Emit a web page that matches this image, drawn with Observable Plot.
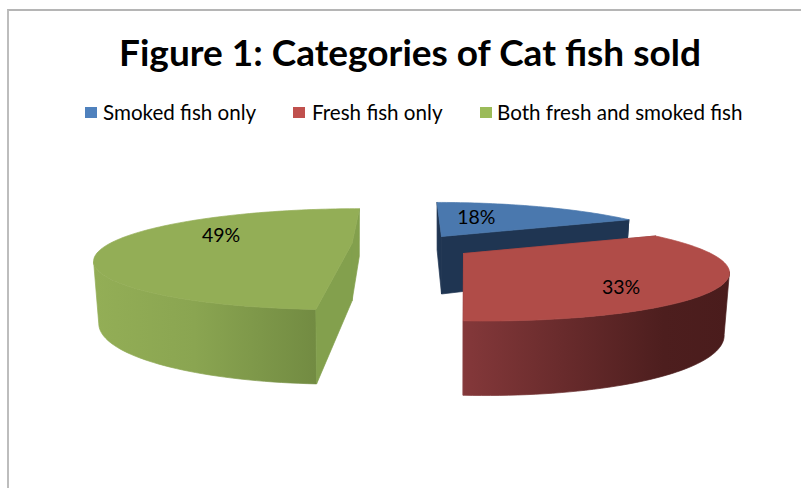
<!DOCTYPE html>
<html>
<head>
<meta charset="utf-8">
<script src="https://cdn.jsdelivr.net/npm/d3@7"></script>
<script src="https://cdn.jsdelivr.net/npm/@observablehq/plot@0.6"></script>
<style>
  html, body { margin: 0; padding: 0; background: #fff; width: 801px; height: 488px; overflow: hidden; }
  body { position: relative; font-family: Lato, "Open Sans", sans-serif; color: #000; }
  #frame { position: absolute; left: 7px; top: 9px; right: 0; bottom: 0; border-left: 2px solid #bdbdbd; border-top: 2px solid #b5b5b5; }
  #head { position: relative; height: 135px; }
  #title { position: absolute; left: 0; width: 820px; top: 27px; text-align: center; font-size: 37px; line-height: 50px; font-weight: 700; white-space: nowrap; }
  .key { position: absolute; top: 99px; font-size: 20.6px; line-height: 26px; white-space: nowrap; }
  .swatch { position: absolute; top: 107px; width: 12px; height: 11px; }
  #chart { display: block; position: relative; }
</style>
</head>
<body>
<div id="frame"></div>
<div id="head">
  <div id="title">Figure 1: Categories of Cat fish sold</div>
</div>
<div id="chart"></div>
<script>
// Shares of each category, in percent, clockwise from the back of the pie.
const categories = ["Smoked fish only", "Fresh fish only", "Both fresh and smoked fish"];
const shares = [18, 33, 49];

// Legend colours and shaded face colours.
const legendColors = ["#4f81bd", "#c0504d", "#9bbb59"];
const topColors = ["#4a78ae", "#b04c48", "#93ae56"];

// Legend layout: swatch left edge and label left edge.
const swatchLeft = [85, 293, 480];
const labelLeft = [103, 312, 497];

// Exploded slices: where each apex sits, its size and its perspective lean.
const apexX = [441, 463, 351.5];
const apexY = [236, 253, 243];
const sliceScale = [0.93, 0.97, 0.95];
const sliceLean = [0.08, 0.2, -0.13];

// Where each percentage sits on its slice, in pie units.
const labelU = [0.18, 0.48, -0.58];
const labelV = [0.47, -0.605, 0.19];

// Tilted-pie projection.
const radiusX = 255, radiusY = 48, foreshorten = 0.31, thickness = 57.5;
const headHeight = 135, pageHeight = 488, pageWidth = 801;

function project(i, u, v) {
  const w = 1 + foreshorten * v;
  const rx = radiusX * sliceScale[i], ry = radiusY * sliceScale[i], lean = sliceLean[i];
  return {x: apexX[i] + rx * (u + lean) / w - rx * lean, y: apexY[i] - ry * v / w, w};
}
const lower = (i, p) => ({x: apexX[i] + (p.x - apexX[i]) * 0.98, y: p.y + thickness / Math.pow(p.w, 0.7), w: p.w});

function arc(i, from, to) {
  const pts = [];
  const steps = Math.ceil((to - from) / (Math.PI / 120));
  for (let k = 0; k <= steps; k++) {
    const t = from + (to - from) * k / steps;
    pts.push(project(i, Math.sin(t), Math.cos(t)));
  }
  return pts;
}

// Cumulative angles taken from the shares.
const total = d3.sum(shares);
const ends = d3.cumsum(shares).map(d => d / total * 2 * Math.PI);
const starts = [0, ...ends.slice(0, -1)];

// A thin stroke in the fill colour closes the hairline seams between faces.
const face = (points, fill) => Plot.line(points, {x: "x", y: "y", fill, stroke: fill, strokeWidth: 0.7, curve: "linear"});
const wallBetween = (i, pts) => [...pts, ...pts.map(p => lower(i, p)).reverse(), pts[0]];

// The part of the rim facing the viewer: from its widest point to its nearer end.
function frontRim(i, rim) {
  const widest = d3.greatest(rim, p => Math.abs(p.x - apexX[i]));
  const at = rim.indexOf(widest);
  return rim[rim.length - 1].y > rim[0].y ? rim.slice(at) : rim.slice(0, at + 1);
}

function sliceMarks(i, wallFill, edgeFill) {
  const rim = arc(i, starts[i], ends[i]);
  const apex = project(i, 0, 0);
  const first = rim[0], last = rim[rim.length - 1];
  return [
    face(wallBetween(i, frontRim(i, rim)), wallFill),
    face(wallBetween(i, [first, apex]), edgeFill),
    face(wallBetween(i, [apex, last]), edgeFill),
    face([apex, ...rim, apex], topColors[i])
  ];
}

// Horizontal shading for the curved sides.
function gradients(_i, _s, _v, _d, context) {
  const doc = context.document;
  const ns = "http://www.w3.org/2000/svg";
  const defs = doc.createElementNS(ns, "defs");
  const add = (id, x1, x2, stops) => {
    const g = doc.createElementNS(ns, "linearGradient");
    g.setAttribute("id", id);
    g.setAttribute("gradientUnits", "userSpaceOnUse");
    g.setAttribute("x1", x1); g.setAttribute("x2", x2);
    g.setAttribute("y1", 0); g.setAttribute("y2", 0);
    stops.forEach(([o, c]) => {
      const s = doc.createElementNS(ns, "stop");
      s.setAttribute("offset", o); s.setAttribute("stop-color", c);
      g.appendChild(s);
    });
    defs.appendChild(g);
  };
  add("redWall", 463, 730, [[0, "#84383a"], [0.75, "#4d1e1e"], [1, "#4a1c1c"]]);
  add("greenWall", 94, 316, [[0, "#93ae56"], [0.45, "#8aa551"], [1, "#728b42"]]);
  return defs;
}

const labels = shares.map((d, i) => ({text: `${d}%`, ...project(i, labelU[i], labelV[i])}));

const chart = Plot.plot({
  width: pageWidth,
  height: pageHeight - headHeight,
  margin: 0,
  style: {background: "transparent"},
  x: {domain: [0, pageWidth], range: [0, pageWidth], axis: null},
  y: {domain: [headHeight, pageHeight], range: [0, pageHeight - headHeight], axis: null},
  marks: [
    gradients,
    ...sliceMarks(0, "#1f3552", "#1f3552"),
    ...sliceMarks(2, "url(#greenWall)", "#83a04d"),
    ...sliceMarks(1, "url(#redWall)", "#84383a"),
    Plot.text(labels, {x: "x", y: "y", text: "text", fill: "#000", fontSize: 19.5, fontFamily: "Lato, sans-serif"})
  ]
});
document.getElementById("chart").appendChild(chart);

// Legend row, built from the same category list.
const head = document.getElementById("head");
categories.forEach((name, i) => {
  const s = document.createElement("div");
  s.className = "swatch";
  s.style.left = swatchLeft[i] + "px";
  s.style.background = legendColors[i];
  head.appendChild(s);
  const t = document.createElement("div");
  t.className = "key";
  t.style.left = labelLeft[i] + "px";
  t.textContent = name;
  head.appendChild(t);
});
</script>
</body>
</html>
